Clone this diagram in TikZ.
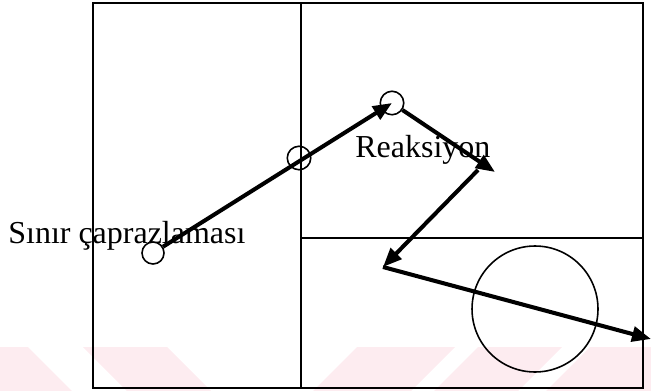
\documentclass[tikz,border=0pt]{standalone}
\usepackage{fontspec}
\setmainfont{Liberation Serif}
\usetikzlibrary{arrows.meta}
\definecolor{wmpink}{RGB}{253,236,240}

\begin{document}
\begin{tikzpicture}[x=.02cm,y=-.02cm,font=\fontsize{18.2}{20}\selectfont,
 hop/.style={draw,circle,line width=.9pt,inner sep=0pt,minimum size=.47cm},
 move/.style={line width=2.3pt,-{Triangle[length=.38cm,width=.3cm]}}]
\useasboundingbox (0,0) rectangle (651,391);
% faint stripes along the bottom edge
\fill[wmpink] (0,347)--(28,347)--(72,391)--(0,391)--cycle;
\fill[wmpink] (83,347)--(167,347)--(211,391)--(127,391)--cycle;
\fill[wmpink] (357,347)--(455,347)--(411,391)--(313,391)--cycle;
\fill[wmpink] (478,347)--(562,347)--(518,391)--(434,391)--cycle;
\fill[wmpink] (590,347)--(651,347)--(651,391)--(546,391)--cycle;
% frame and cells
\draw[line width=1.3pt] (93,3) rectangle (643,388);
\draw[line width=1.2pt] (301,3)--(301,388);
\draw[line width=1pt] (301,238)--(643,238);
\node[anchor=base west,inner sep=0pt] (cross) at (8,243) {Sınır çaprazlaması};
\node[anchor=base west,inner sep=0pt] (react) at (355,158) {Reaksiyon};
\node[hop,minimum size=.44cm] (c1) at (153,253) {};
\node[hop] (c2) at (299,158) {};
\node[hop] (c3) at (392,103) {};
\node[draw,circle,line width=.9pt,inner sep=0pt,minimum size=2.52cm] (zone) at (535,309) {};
\coordinate (p1) at (495,172);
\coordinate (p2) at (478,170);
\coordinate (p3) at (383,267);
\coordinate (p4) at (651,339);
\draw[move] (c1)--(c3.center);
\draw[move] (c3)--(p1);
\draw[move] (p2)--(p3);
\draw[move] (p3)--(p4);
\end{tikzpicture}
\end{document}
